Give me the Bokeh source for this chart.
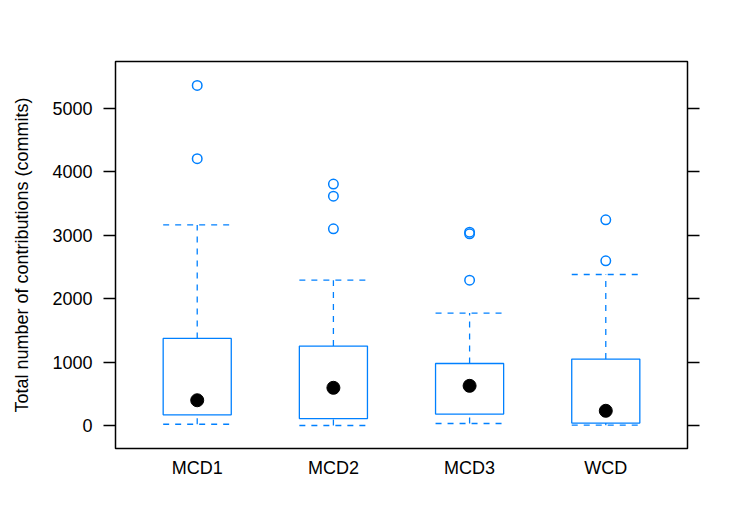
from bokeh.plotting import figure
from bokeh.models import FixedTicker, LinearAxis, Range1d
from bokeh.embed import file_html
from bokeh.resources import INLINE

# ---- data ----
categories = ["MCD1", "MCD2", "MCD3", "WCD"]
lower_whisker = [20, 0, 32, 6]
q1 = [168, 110, 180, 38]
median = [398, 594, 625, 232]
q3 = [1372, 1251, 977, 1046]
upper_whisker = [3160, 2290, 1771, 2379]
outliers = [[4203, 5357], [3099, 3612, 3803], [2290, 3020, 3045], [2594, 3240]]
y_ticks = [0, 1000, 2000, 3000, 4000, 5000]

BLUE = "#0080ff"
FONT = "Liberation Sans"
FS = "18px"
BOX_W = 0.5

xs = list(range(1, len(categories) + 1))

p = figure(width=739, height=515, output_backend="svg", toolbar_location=None,
           x_range=Range1d(0.4, len(categories) + 0.6), y_range=Range1d(-362, 5734),
           min_border_left=115, min_border_right=52, min_border_top=61, min_border_bottom=67)
p.grid.visible = False
p.background_fill_color = "white"
p.border_fill_color = "white"
p.outline_line_color = "black"
p.outline_line_width = 1.5

# whiskers (dashed)
dash = "6 6"
p.segment(x0=xs, y0=q3, x1=xs, y1=upper_whisker, line_color=BLUE, line_width=1.3, line_dash=dash)
p.segment(x0=xs, y0=lower_whisker, x1=xs, y1=q1, line_color=BLUE, line_width=1.3, line_dash=dash)
p.segment(x0=[x - BOX_W / 2 for x in xs], y0=upper_whisker, x1=[x + BOX_W / 2 for x in xs], y1=upper_whisker,
          line_color=BLUE, line_width=1.3, line_dash=dash)
p.segment(x0=[x - BOX_W / 2 for x in xs], y0=lower_whisker, x1=[x + BOX_W / 2 for x in xs], y1=lower_whisker,
          line_color=BLUE, line_width=1.3, line_dash=dash)

# boxes
p.vbar(x=xs, width=BOX_W, bottom=q1, top=q3, fill_color=None, line_color=BLUE, line_width=1.3)

# outliers
ox = [x for x, o in zip(xs, outliers) for _ in o]
oy = [v for o in outliers for v in o]
p.scatter(ox, oy, marker="circle", size=9.5, fill_color=None, line_color=BLUE, line_width=1.5)

# medians
p.scatter(xs, median, marker="circle", size=13, fill_color="black", line_color="black")

# axes
xa = p.xaxis[0]
xa.ticker = FixedTicker(ticks=xs)
xa.major_label_overrides = {x: c for x, c in zip(xs, categories)}
xa.major_tick_out = 0
xa.major_tick_in = 0
xa.minor_tick_line_color = None
xa.axis_line_color = None
xa.major_label_standoff = 9
xa.major_label_text_font = FONT
xa.major_label_text_font_size = FS
xa.major_label_text_color = "black"

ya = p.yaxis[0]
ya.ticker = FixedTicker(ticks=y_ticks)
ya.major_tick_out = 12
ya.major_tick_in = 0
ya.major_tick_line_width = 1.5
ya.minor_tick_line_color = None
ya.axis_line_color = None
ya.major_label_standoff = 11
ya.major_label_text_font = FONT
ya.major_label_text_font_size = FS
ya.major_label_text_color = "black"
ya.axis_label = "Total number of contributions (commits)"
ya.axis_label_text_font = FONT
ya.axis_label_text_font_size = FS
ya.axis_label_text_font_style = "normal"
ya.axis_label_text_color = "black"
ya.axis_label_standoff = 17

ra = LinearAxis(ticker=FixedTicker(ticks=y_ticks))
ra.major_tick_out = 12
ra.major_tick_in = 0
ra.major_tick_line_width = 1.5
ra.minor_tick_line_color = None
ra.axis_line_color = None
ra.major_label_text_alpha = 0
ra.major_label_text_font_size = "1px"
p.add_layout(ra, "right")

open("out.html", "w").write(file_html(p, INLINE))
